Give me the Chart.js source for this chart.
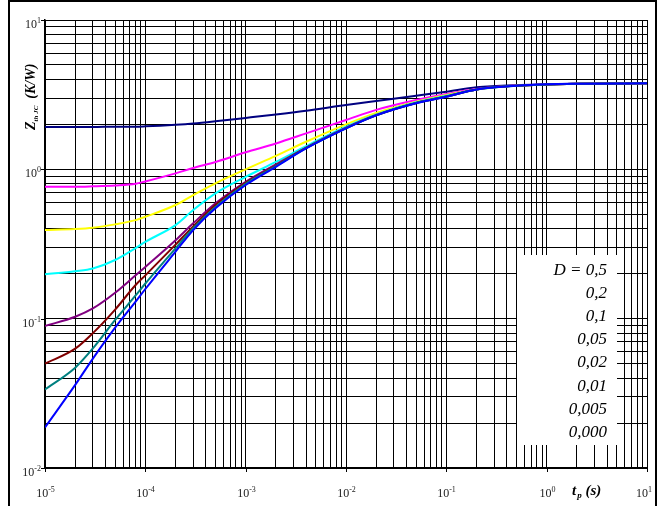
<!DOCTYPE html>
<html>
<head>
<meta charset="utf-8">
<script src="https://cdn.jsdelivr.net/npm/chart.js@4.4.1/dist/chart.umd.min.js"></script>
<style>
  html, body { margin: 0; padding: 0; background: #fff; }
  #wrap { width: 659px; height: 506px; }
</style>
</head>
<body>
<div id="wrap"><canvas id="zthChart" width="659" height="506"></canvas></div>
<script>
// pulse duration t_p (s)
const tp = [1e-5, 2e-5, 3e-5, 5e-5, 8e-5, 1e-4, 2e-4, 3e-4, 5e-4, 1e-3, 2e-3, 4e-3,
            1e-2, 2e-2, 5e-2, 1e-1, 2e-1, 5e-1, 1, 2, 10];

// Zth JC (K/W) per duty cycle D
const zD05   = [1.92, 1.92, 1.92, 1.93, 1.93, 1.94, 1.99, 2.03, 2.10, 2.21, 2.33, 2.47, 2.70, 2.87, 3.11, 3.31, 3.54, 3.67, 3.71, 3.74, 3.77];
const zD02   = [0.765, 0.765, 0.77, 0.78, 0.80, 0.83, 0.94, 1.02, 1.12, 1.30, 1.49, 1.74, 2.14, 2.50, 2.91, 3.19, 3.45, 3.64, 3.70, 3.74, 3.77];
const zD01   = [0.392, 0.398, 0.406, 0.428, 0.457, 0.481, 0.577, 0.673, 0.806, 1.0, 1.23, 1.53, 2.0, 2.39, 2.84, 3.15, 3.43, 3.63, 3.70, 3.74, 3.77];
const zD005  = [0.198, 0.208, 0.217, 0.247, 0.297, 0.327, 0.423, 0.534, 0.69, 0.89, 1.12, 1.43, 1.93, 2.33, 2.81, 3.11, 3.43, 3.63, 3.70, 3.74, 3.77];
const zD002  = [0.0892, 0.103, 0.117, 0.149, 0.195, 0.222, 0.335, 0.435, 0.592, 0.826, 1.08, 1.40, 1.90, 2.31, 2.78, 3.08, 3.43, 3.63, 3.70, 3.74, 3.77];
const zD001  = [0.050, 0.063, 0.080, 0.115, 0.168, 0.195, 0.313, 0.415, 0.577, 0.813, 1.06, 1.39, 1.89, 2.30, 2.78, 3.07, 3.43, 3.63, 3.70, 3.74, 3.77];
const zD0005 = [0.0336, 0.0470, 0.0632, 0.098, 0.143, 0.172, 0.296, 0.403, 0.56, 0.80, 1.05, 1.385, 1.885, 2.30, 2.78, 3.07, 3.43, 3.63, 3.70, 3.74, 3.77];
const zD0    = [0.0187, 0.036, 0.054, 0.087, 0.13, 0.158, 0.281, 0.392, 0.548, 0.785, 1.04, 1.38, 1.88, 2.30, 2.77, 3.06, 3.43, 3.63, 3.71, 3.74, 3.77];

const dutyLabels = ['D = 0,5', '0,2', '0,1', '0,05', '0,02', '0,01', '0,005', '0,000'];
const xDecades = [-5, -4, -3, -2, -1, 0, 1];
const yDecades = [-2, -1, 0, 1];

const series = [zD05, zD02, zD01, zD005, zD002, zD001, zD0005, zD0];
const colors = ['#000080', '#ff00ff', '#ffff00', '#00ffff', '#800080', '#800000', '#008080', '#0000ff'];

// grid at 1..9 x 10^n
function logTicks(decs) {
    const out = [];
    for (let i = 0; i < decs.length - 1; i++) {
        for (let m = 1; m < 10; m++) out.push({ value: m * Math.pow(10, decs[i]) });
    }
    out.push({ value: Math.pow(10, decs[decs.length - 1]) });
    return out;
}

const labelFont = '12px "Liberation Serif"';
const supFont = '8px "Liberation Serif"';

function drawPow(ctx, exp, x, y, align) {
    ctx.font = labelFont;
    const wb = ctx.measureText('10').width;
    ctx.font = supFont;
    const ws = ctx.measureText(String(exp)).width;
    let left = x;
    if (align === 'right') left = x - wb - ws;
    else if (align === 'center') left = x - (wb + ws) / 2;
    ctx.textAlign = 'left';
    ctx.textBaseline = 'alphabetic';
    ctx.font = labelFont;
    ctx.fillText('10', left, y);
    ctx.font = supFont;
    ctx.fillText(String(exp), left + wb, y - 5);
}

const decor = {
    id: 'decor',
    afterDraw(chart) {
        const ctx = chart.ctx;
        const xs = chart.scales.x, ys = chart.scales.y;
        const area = chart.chartArea;
        ctx.save();

        // outer frame
        ctx.strokeStyle = '#000';
        ctx.lineWidth = 2;
        ctx.strokeRect(9, 1, 647, 560);

        // legend box
        const bl = Math.round(xs.getPixelForValue(0.5)) + 1;
        const br = Math.round(xs.getPixelForValue(5));
        ctx.fillStyle = '#fff';
        ctx.fillRect(bl, 255, br - bl, 190);
        ctx.fillStyle = '#000';
        ctx.font = 'italic 17px "Liberation Serif"';
        ctx.textAlign = 'right';
        ctx.textBaseline = 'alphabetic';
        dutyLabels.forEach((t, i) => ctx.fillText(t, 607, 275 + i * 23.1));

        // tick marks + labels
        ctx.strokeStyle = '#000';
        ctx.lineWidth = 1;
        ctx.fillStyle = '#222';
        yDecades.forEach(e => {
            const py = Math.round(ys.getPixelForValue(Math.pow(10, e))) + 0.5;
            ctx.beginPath();
            ctx.moveTo(area.left - 4, py);
            ctx.lineTo(area.left, py);
            ctx.stroke();
            drawPow(ctx, e, 41, py + 7, 'right');
        });
        xDecades.forEach(e => {
            const px = Math.round(xs.getPixelForValue(Math.pow(10, e))) + 0.5;
            ctx.beginPath();
            ctx.moveTo(px, area.bottom);
            ctx.lineTo(px, area.bottom + 4);
            ctx.stroke();
            drawPow(ctx, e, Math.min(px, 644), 497, 'center');
        });

        // axis titles
        ctx.fillStyle = '#000';
        ctx.save();
        ctx.translate(34.5, 130);
        ctx.rotate(-Math.PI / 2);
        ctx.textAlign = 'left';
        ctx.font = 'bold italic 14px "Liberation Serif"';
        ctx.fillText('Z', 0, 0);
        let w = ctx.measureText('Z').width;
        ctx.font = 'bold italic 7px "Liberation Serif"';
        ctx.fillText('th JC', w, 3);
        w += ctx.measureText('th JC').width;
        ctx.font = 'bold italic 14px "Liberation Serif"';
        ctx.fillText('  (K/W)', w, 0);
        ctx.restore();

        ctx.textAlign = 'left';
        ctx.font = 'bold italic 15px "Liberation Serif"';
        ctx.fillText('t', 572, 495);
        let wx = ctx.measureText('t').width;
        ctx.font = 'bold italic 9px "Liberation Serif"';
        ctx.fillText('p', 572 + wx + 1, 498);
        wx += ctx.measureText('p').width + 1;
        ctx.font = 'bold italic 15px "Liberation Serif"';
        ctx.fillText(' (s)', 572 + wx, 495);

        ctx.restore();
    }
};

const datasets = series.map((vals, i) => ({
    label: dutyLabels[i],
    data: tp.map((t, k) => ({ x: t, y: vals[k] })),
    borderColor: colors[i],
    borderWidth: 2,
    pointRadius: 0,
    fill: false,
    cubicInterpolationMode: 'monotone',
    order: series.length - 1 - i
}));

const gridOpts = { color: '#000', lineWidth: 1, drawTicks: false };

new Chart(document.getElementById('zthChart').getContext('2d'), {
    type: 'line',
    data: { datasets: datasets },
    options: {
        responsive: false,
        animation: false,
        layout: { padding: { left: 45, right: 12, top: 20, bottom: 38 } },
        plugins: { legend: { display: false }, tooltip: { enabled: false } },
        scales: {
            x: {
                type: 'logarithmic',
                min: 1e-5,
                max: 10,
                grid: gridOpts,
                border: { color: '#000', width: 1.5 },
                ticks: { display: false },
                afterBuildTicks: scale => { scale.ticks = logTicks(xDecades); }
            },
            y: {
                type: 'logarithmic',
                min: 0.01,
                max: 10,
                grid: gridOpts,
                border: { color: '#000', width: 1.5 },
                ticks: { display: false },
                afterBuildTicks: scale => { scale.ticks = logTicks(yDecades); }
            }
        }
    },
    plugins: [decor]
});
</script>
</body>
</html>
